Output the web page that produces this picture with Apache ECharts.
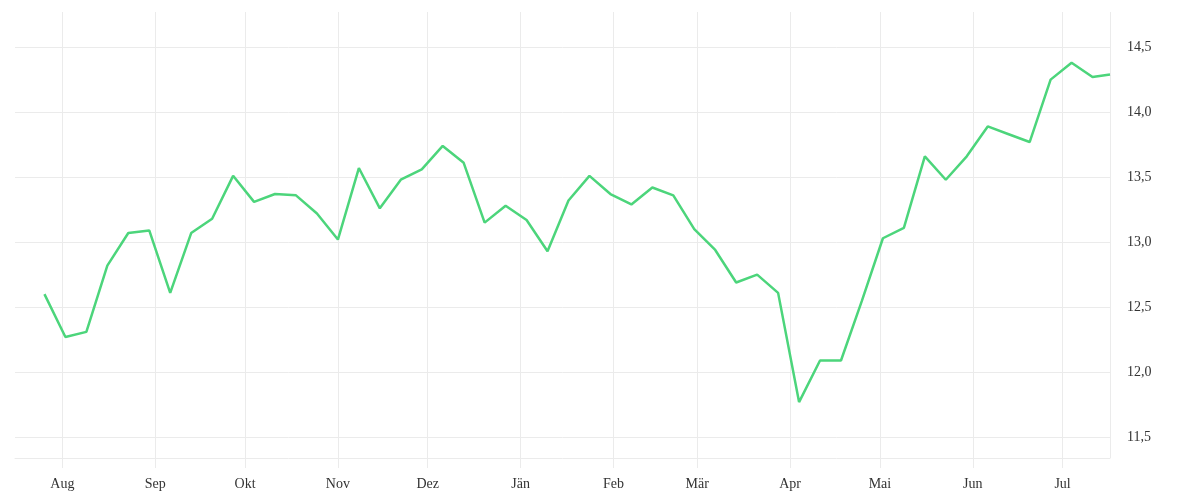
<!DOCTYPE html>
<html>
<head>
<meta charset="utf-8">
<script src="https://cdn.jsdelivr.net/npm/echarts@6/dist/echarts.min.js"></script>
<style>html,body{margin:0;padding:0;background:#fff}#c{width:1200px;height:500px}</style>
</head>
<body>
<div id="c"></div>
<script>
const dates = [
  '2018-07-26','2018-08-02','2018-08-09','2018-08-16','2018-08-23','2018-08-30','2018-09-06','2018-09-13',
  '2018-09-20','2018-09-27','2018-10-04','2018-10-11','2018-10-18','2018-10-25','2018-11-01','2018-11-08',
  '2018-11-15','2018-11-22','2018-11-29','2018-12-06','2018-12-13','2018-12-20','2018-12-27','2019-01-03',
  '2019-01-10','2019-01-17','2019-01-24','2019-01-31','2019-02-07','2019-02-14','2019-02-21','2019-02-28',
  '2019-03-07','2019-03-14','2019-03-21','2019-03-28','2019-04-04','2019-04-11','2019-04-18','2019-04-25',
  '2019-05-02','2019-05-09','2019-05-16','2019-05-23','2019-05-30','2019-06-06','2019-06-13','2019-06-20',
  '2019-06-27','2019-07-04','2019-07-11','2019-07-16 20:00'
];
const values = [
  12.60, 12.27, 12.31, 12.82, 13.07, 13.09, 12.61, 13.07,
  13.18, 13.51, 13.31, 13.37, 13.36, 13.22, 13.02, 13.57,
  13.26, 13.48, 13.56, 13.74, 13.61, 13.15, 13.28, 13.17,
  12.93, 13.32, 13.51, 13.37, 13.29, 13.42, 13.36, 13.10,
  12.94, 12.69, 12.75, 12.61, 11.77, 12.09, 12.09, 12.55,
  13.03, 13.11, 13.66, 13.48, 13.66, 13.89, 13.83, 13.77,
  14.25, 14.38, 14.27, 14.29
];
const monthNames = ['Jän','Feb','Mär','Apr','Mai','Jun','Jul','Aug','Sep','Okt','Nov','Dez'];
const xMin = '2018-07-16 04:00';
const xMax = '2019-07-16 20:00';
const yMin = 11.34;
const yMax = 14.77;

const chart = echarts.init(document.getElementById('c'), null, {renderer: 'canvas'});
const gridColor = '#ebebeb';
const font = '"Liberation Serif", serif';
chart.setOption({
  animation: false,
  grid: {left: 15, right: 90, top: 12, bottom: 42, containLabel: false},
  xAxis: {
    type: 'time',
    min: xMin,
    max: xMax,
    splitNumber: 12,
    minInterval: 28 * 86400000,
    maxInterval: 31 * 86400000,
    axisLine: {show: true, lineStyle: {color: gridColor, width: 1}},
    axisTick: {show: true, length: 10, lineStyle: {color: gridColor}},
    splitLine: {show: true, showMinLine: false, lineStyle: {color: gridColor, width: 1}},
    axisLabel: {
      margin: 19,
      fontFamily: font,
      fontSize: 14,
      color: '#333',
      showMinLabel: false,
      showMaxLabel: false,
      hideOverlap: false,
      formatter: function (v) { return monthNames[new Date(v).getMonth()]; }
    }
  },
  yAxis: {
    type: 'value',
    position: 'right',
    min: yMin,
    max: yMax,
    splitNumber: 5,
    axisLine: {show: false},
    axisTick: {show: false},
    splitLine: {show: true, showMinLine: false, showMaxLine: false, lineStyle: {color: gridColor, width: 1}},
    axisLabel: {
      margin: 17,
      fontFamily: font,
      fontSize: 14,
      color: '#333',
      padding: [4, 0, 0, 0],
      showMinLabel: false,
      showMaxLabel: false,
      formatter: function (v) { return v.toFixed(1).replace('.', ','); }
    }
  },
  series: [{
    type: 'line',
    data: dates.map((d, i) => [d, values[i]]),
    showSymbol: false,
    symbol: 'none',
    lineStyle: {color: '#4cd57b', width: 2.5},
    itemStyle: {color: '#4cd57b'}
  }]
});
</script>
</body>
</html>
